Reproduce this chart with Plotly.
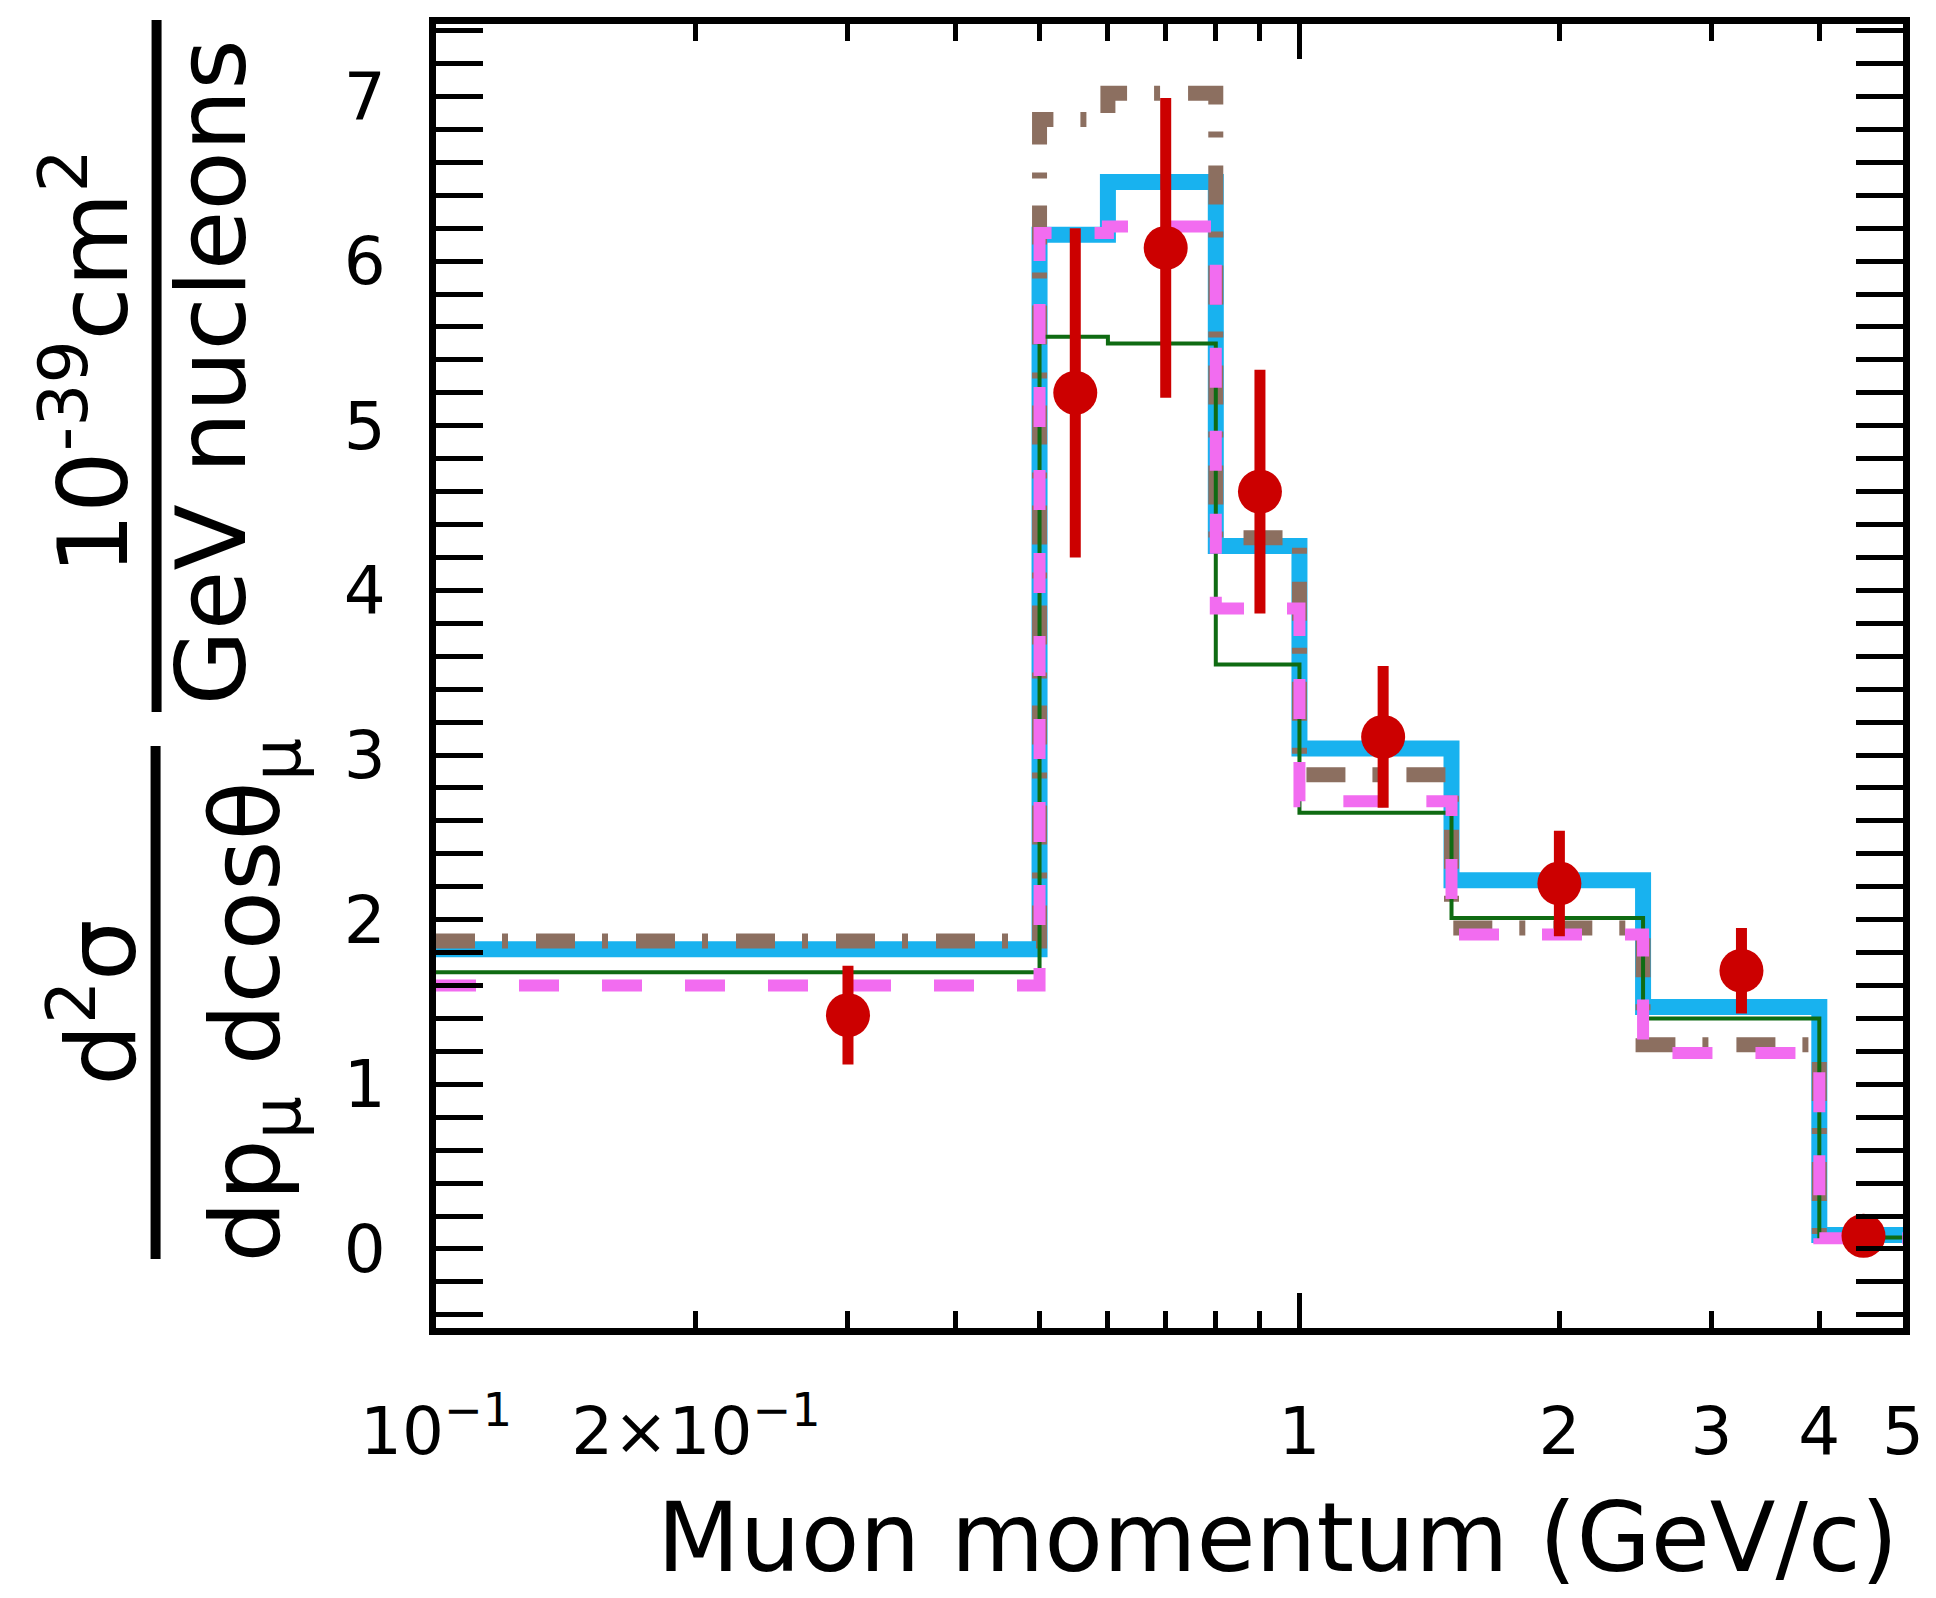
import plotly.graph_objects as go

# Muon momentum binning (GeV/c)
bin_edges = [0.1, 0.5, 0.6, 0.8, 1.0, 1.5, 2.5, 4.0, 5.0]

# Model predictions per bin, in 10^-39 cm^2 / (GeV nucleon)
model_blue = [1.82, 6.16, 6.48, 4.27, 3.04, 2.24, 1.47, 0.085]
model_brown = [1.87, 6.86, 7.02, 4.32, 2.88, 1.95, 1.24, 0.075]
model_green = [1.68, 5.54, 5.50, 3.55, 2.65, 2.01, 1.40, 0.07]
model_pink = [1.60, 6.17, 6.21, 3.89, 2.72, 1.91, 1.19, 0.065]

# Measured cross section with errors
data_p = [0.3, 0.55, 0.7, 0.9, 1.25, 2.0, 3.25, 4.5]
data_xsec = [1.42, 5.20, 6.08, 4.60, 3.11, 2.22, 1.69, 0.08]
data_err = [0.30, 1.00, 0.91, 0.74, 0.43, 0.32, 0.26, 0.02]

# Axis ticks
x_tickvals = [0.1, 0.2, 1, 2, 3, 4, 5]
x_ticktext = ["10<sup>−1</sup>", "2×10<sup>−1</sup>", "1", "2", "3", "4", "5"]
x_minor_ticks = [0.3, 0.4, 0.5, 0.6, 0.7, 0.8, 0.9]
x_long_ticks = [1]

FONT = "DejaVu Sans"
W, H = 1936, 1598
L, R, T, B = 436, 1906, 24, 1328


def px2x(px):
    return (px - L) / (R - L)


def py2y(py):
    return (B - py) / (B - T)


def step(values):
    return values + [values[-1]]


fig = go.Figure()

styles = [
    (model_blue, "#18b2ef", 16, "solid"),
    (model_brown, "#8c6f60", 15, "39px,27px,6px,28px"),
    (model_green, "#0f6b12", 4, "solid"),
    (model_pink, "#f26cf0", 12, "40px,43px"),
]
for vals, color, width, dash in styles:
    fig.add_trace(go.Scatter(
        x=bin_edges, y=step(vals), mode="lines", line_shape="hv",
        line=dict(color=color, width=width, dash=dash),
        showlegend=False, hoverinfo="skip",
    ))

fig.add_trace(go.Scatter(
    x=data_p, y=data_xsec, mode="markers",
    marker=dict(size=44, color="#cc0000", line=dict(width=0)),
    error_y=dict(type="data", array=data_err, thickness=11, width=0, color="#cc0000"),
    showlegend=False,
))

axis_common = dict(
    showline=True, linecolor="black", linewidth=7, mirror="allticks",
    ticks="inside", tickcolor="black", tickwidth=5,
    showgrid=False, zeroline=False,
)

fig.update_layout(
    width=W, height=H,
    margin=dict(l=L, r=W - R, t=T, b=H - B),
    paper_bgcolor="white", plot_bgcolor="white",
    font=dict(family=FONT, color="black"),
    xaxis=dict(
        type="log", range=[-1, 0.69897],
        tickmode="array", tickvals=x_tickvals, ticktext=x_ticktext,
        ticklen=17, tickfont=dict(size=66, family=FONT),
        ticklabelstandoff=40,
        minor=dict(tickmode="array", tickvals=x_minor_ticks, ticks="inside",
                   ticklen=17, tickwidth=5, tickcolor="black"),
        **axis_common,
    ),
    xaxis2=dict(
        type="log", range=[-1, 0.69897], overlaying="x", anchor="y", side="bottom",
        tickmode="array", tickvals=x_long_ticks, ticklen=35,
        showticklabels=False,
        **axis_common,
    ),
    yaxis=dict(
        range=[-0.48, 7.44], dtick=1, tick0=0,
        ticklen=47, tickfont=dict(size=66, family=FONT),
        ticklabelstandoff=30,
        minor=dict(dtick=0.2, ticks="inside", ticklen=22, tickwidth=5, tickcolor="black"),
        **axis_common,
    ),
)

# Keep the long-tick overlay axis attached to a (dummy) trace
fig.add_trace(go.Scatter(x=[1], y=[None], xaxis="x2", yaxis="y", showlegend=False,
                         hoverinfo="skip"))

# x-axis title
fig.add_annotation(
    text="Muon momentum (GeV/c)", xref="paper", yref="paper",
    x=px2x(1903), y=py2y(1596), xanchor="right", yanchor="bottom",
    showarrow=False, font=dict(size=96, family=FONT),
)

# y-axis title: two stacked fractions, rotated
ytitle_parts = [
    ("d<sup>2</sup>σ", 95, 1003),
    ("dp<sub>μ</sub> dcosθ<sub>μ</sub>", 252, 1000),
    ("10<sup>-39</sup>cm<sup>2</sup>", 87, 362),
    ("GeV nucleons", 211, 372),
]
for txt, cx, cy in ytitle_parts:
    fig.add_annotation(
        text=txt, xref="paper", yref="paper", x=px2x(cx), y=py2y(cy),
        xanchor="center", yanchor="middle", textangle=-90,
        showarrow=False, font=dict(size=97, family=FONT),
    )

for bx, y0, y1 in [(155, 746, 1259), (156, 20, 712)]:
    fig.add_shape(type="line", xref="paper", yref="paper",
                  x0=px2x(bx), x1=px2x(bx), y0=py2y(y0), y1=py2y(y1),
                  line=dict(color="black", width=10))

fig.write_html("out.html")
